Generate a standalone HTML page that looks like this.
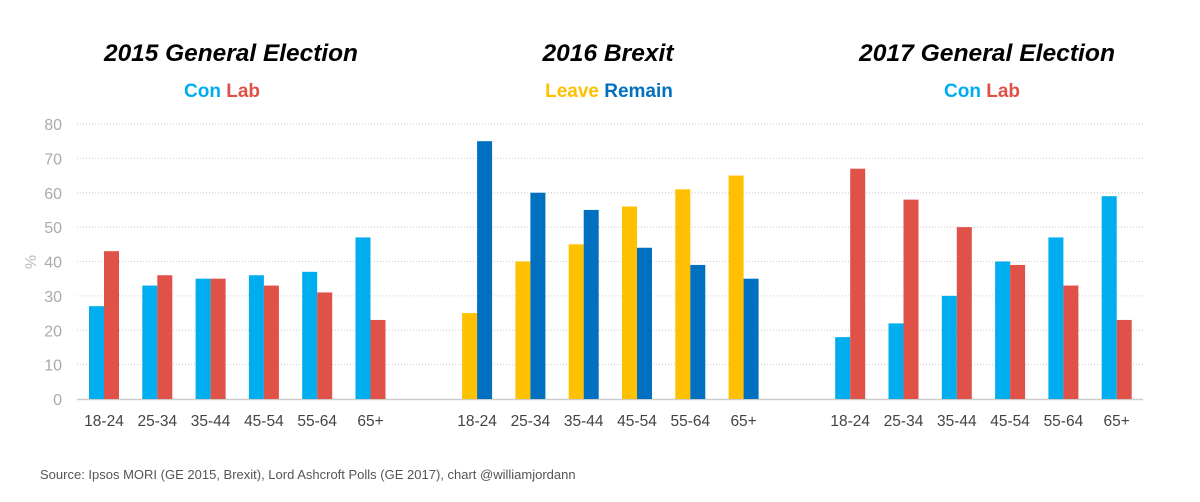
<!DOCTYPE html>
<html><head><meta charset="utf-8"><style>
body{margin:0;background:#fff;}
svg{display:block;font-family:"Liberation Sans",Arial,sans-serif;}
</style></head><body>
<svg id="chart" width="1200" height="502">
<g>
<text x="231" y="61" text-anchor="middle" font-size="24" font-weight="bold" font-style="italic" fill="#000" textLength="254" lengthAdjust="spacingAndGlyphs">2015 General Election</text>
<text x="608" y="61" text-anchor="middle" font-size="24" font-weight="bold" font-style="italic" fill="#000" textLength="131" lengthAdjust="spacingAndGlyphs">2016 Brexit</text>
<text x="987" y="61" text-anchor="middle" font-size="24" font-weight="bold" font-style="italic" fill="#000" textLength="256" lengthAdjust="spacingAndGlyphs">2017 General Election</text>
<text x="222" y="97" text-anchor="middle" font-size="19" font-weight="bold"><tspan fill="#00AEEF">Con</tspan> <tspan fill="#E05147">Lab</tspan></text>
<text x="609" y="97" text-anchor="middle" font-size="19" font-weight="bold"><tspan fill="#FFC000">Leave</tspan> <tspan fill="#0070C0">Remain</tspan></text>
<text x="982" y="97" text-anchor="middle" font-size="19" font-weight="bold"><tspan fill="#00AEEF">Con</tspan> <tspan fill="#E05147">Lab</tspan></text>
</g>
<text transform="translate(36,262) rotate(-90)" text-anchor="middle" font-size="16" fill="#bbb">%</text>
<g id="grid"></g>
<g id="bars"></g>
<g id="xl"></g>
<text x="40" y="479" font-size="13" fill="#555">Source: Ipsos MORI (GE 2015,  Brexit), Lord Ashcroft Polls (GE 2017), chart @williamjordann</text>
</svg>
<script>
const categories = ["18-24","25-34","35-44","45-54","55-64","65+"];
const con2015 = [27,33,35,36,37,47];
const lab2015 = [43,36,35,33,31,23];
const leave2016 = [25,40,45,56,61,65];
const remain2016 = [75,60,55,44,39,35];
const con2017 = [18,22,30,40,47,59];
const lab2017 = [67,58,50,39,33,23];
const yTicks = [0,10,20,30,40,50,60,70,80];

const NS="http://www.w3.org/2000/svg";
const x0=77, slot=53.3, y0=399, yTop=124, yMax=80;
const yScale=v=>y0-(v/yMax)*(y0-yTop);
const slotX=i=>x0+i*slot;
function mk(tag,attrs,parent){const e=document.createElementNS(NS,tag);for(const k in attrs)e.setAttribute(k,attrs[k]);parent.appendChild(e);return e;}
const grid=document.getElementById('grid'), bars=document.getElementById('bars'), xl=document.getElementById('xl');
yTicks.forEach(t=>{
  const y=yScale(t);
  if(t>0){const l=mk('line',{x1:x0,x2:1143,y1:y,y2:y,stroke:'#ccc','stroke-width':1,'stroke-dasharray':'1,2'},grid);
    
    }
  const tx=mk('text',{x:62,y:y+6,'text-anchor':'end','font-size':16,fill:'#aaa'},grid);
  tx.textContent=t;
  
  
});
const ax=mk('line',{x1:x0,x2:1143,y1:y0+0.5,y2:y0+0.5,stroke:'#ccc','stroke-width':1.5},grid);


const panels=[[con2015,lab2015,'#00AEEF','#E05147',0],[leave2016,remain2016,'#FFC000','#0070C0',7],[con2017,lab2017,'#00AEEF','#E05147',14]];
panels.forEach(([a,b,ca,cb,off])=>{
  categories.forEach((c,i)=>{
    const sx=slotX(off+i);
    const bx=sx+12;
    const r1=mk('rect',{x:bx,y:yScale(a[i]),width:15,height:y0-yScale(a[i]),fill:ca},bars);
    
    
    const r2=mk('rect',{x:bx+15,y:yScale(b[i]),width:15,height:y0-yScale(b[i]),fill:cb},bars);
    
    
    const t=mk('text',{x:bx+15,y:426,'text-anchor':'middle','font-size':15.5,fill:'#444'},xl);
    t.textContent=c;
    
    
  });
});
</script>
</body></html>
